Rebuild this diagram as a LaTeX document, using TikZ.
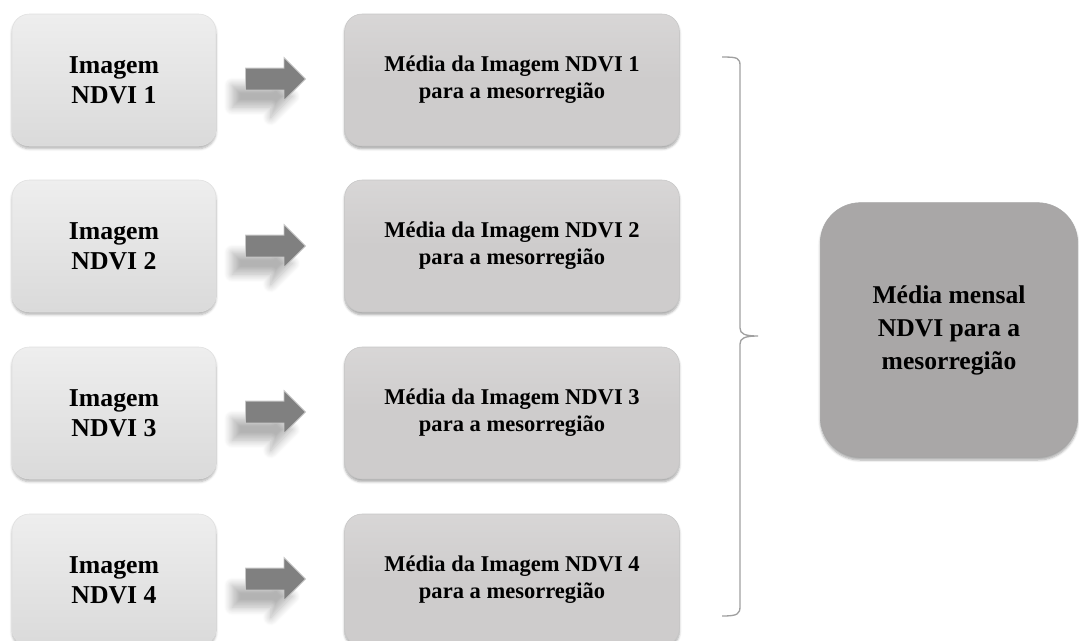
\documentclass[tikz,border=0pt]{standalone}
\usepackage{fontspec}
\setmainfont{Liberation Serif}
\usetikzlibrary{positioning,shapes.arrows,shadows,shadows.blur}
\definecolor{imgtop}{HTML}{EEEEEE}
\definecolor{imgbot}{HTML}{DADADA}
\definecolor{medfill}{HTML}{CECCCC}
\definecolor{menfill}{HTML}{A9A7A7}
\definecolor{bracecol}{HTML}{A0A0A0}
\tikzset{
  imgbox/.style  = {rectangle, rounded corners=13pt, minimum width=153pt,
                    minimum height=99pt, top color=imgtop, bottom color=imgbot,
                    draw=gray!25, align=center,
                    font=\fontsize{19.3}{22.5}\selectfont\bfseries,
                    blur shadow={shadow xshift=0pt, shadow yshift=-2pt,
                                 shadow opacity=30, shadow blur steps=5}},
  medbox/.style  = {rectangle, rounded corners=13pt, minimum width=251pt,
                    minimum height=99pt, top color=medfill!80!white,
                    bottom color=medfill, middle color=medfill,
                    draw=gray!45, align=center,
                    font=\fontsize{16.9}{20.3}\selectfont\bfseries,
                    blur shadow={shadow xshift=0pt, shadow yshift=-2pt,
                                 shadow opacity=35, shadow blur steps=5}},
  menbox/.style  = {rectangle, rounded corners=30pt, minimum width=193pt,
                    minimum height=191pt, fill=menfill, draw=gray!70,
                    align=center,
                    font=\fontsize{19.2}{24.8}\selectfont\bfseries,
                    blur shadow={shadow xshift=0pt, shadow yshift=-2pt,
                                 shadow opacity=35, shadow blur steps=5}},
  blockarrow/.style = {single arrow, single arrow head extend=7.9pt,
                    minimum height=45pt, inner sep=0pt, fill=gray,
                    draw=gray!45, line width=.6pt,
                    blur shadow={shadow xshift=-10pt, shadow yshift=-13pt,
                                 shadow opacity=30, shadow blur radius=6pt,
                                 shadow blur steps=10}},
  braceline/.style = {draw=bracecol, line width=1pt},
}

\begin{document}
\begin{tikzpicture}[x=0.75pt,y=-0.75pt]
\useasboundingbox (0,0) rectangle (1079,640);
% ---- images ----
\node[imgbox] (I1) at (114,80)  {Imagem\\NDVI 1};
\node[imgbox] (I2) at (114,246) {Imagem\\NDVI 2};
\node[imgbox] (I3) at (114,413) {Imagem\\NDVI 3};
\node[imgbox] (I4) at (114,580) {Imagem\\NDVI 4};
% ---- block arrows ----
\node[blockarrow] (A1) at (270,79)  {\rule{0pt}{15.75pt}};
\node[blockarrow] (A2) at (270,246) {\rule{0pt}{15.75pt}};
\node[blockarrow] (A3) at (270,412) {\rule{0pt}{15.75pt}};
\node[blockarrow] (A4) at (270,579) {\rule{0pt}{15.75pt}};
% ---- mean per image ----
\node[medbox] (M1) at (512,80)  {Média da Imagem NDVI 1\\para a mesorregião};
\node[medbox] (M2) at (512,246) {Média da Imagem NDVI 2\\para a mesorregião};
\node[medbox] (M3) at (512,413) {Média da Imagem NDVI 3\\para a mesorregião};
\node[medbox] (M4) at (512,580) {Média da Imagem NDVI 4\\para a mesorregião};
% ---- monthly mean ----
\node[menbox] (R) at (949,330) {Média mensal\\NDVI para a\\mesorregião};
% brace gathering the four means
\coordinate (BT) at (722,57);
\coordinate (BM) at (758,336);
\coordinate (BB) at (722,616);
\draw[braceline] (BT) .. controls (738,57) and (740,58) .. (740,66)
  -- (740,328) .. controls (740,334) and (745,336) .. (BM)
  .. controls (745,336) and (740,338) .. (740,344)
  -- (740,606) .. controls (740,614) and (738,616) .. (BB);
\end{tikzpicture}
\end{document}
